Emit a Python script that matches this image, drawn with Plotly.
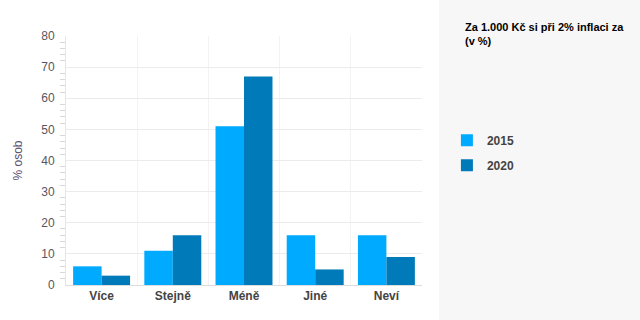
import plotly.graph_objects as go

categories = ["Více", "Stejně", "Méně", "Jiné", "Neví"]
values_2015 = [6, 11, 51, 16, 16]
values_2020 = [3, 16, 67, 5, 9]
series_names = ["2015", "2020"]
colors = ["#00aaff", "#007ab8"]

fig = go.Figure()
for name, vals, col in zip(series_names, [values_2015, values_2020], colors):
    fig.add_trace(go.Bar(x=categories, y=vals, name="<b>" + name + "</b>",
                         marker=dict(color=col, line=dict(width=0)), legendgroup=name))

fig.update_layout(
    width=640, height=320,
    margin=dict(l=66, r=218, t=36, b=35),
    paper_bgcolor="white", plot_bgcolor="white",
    barmode="group", bargap=0.2, bargroupgap=0,
    font=dict(family="Liberation Sans, Arial", size=12, color="#555"),
    showlegend=True,
    legend=dict(x=1.07, y=0.64, xanchor="left", yanchor="top",
                bgcolor="rgba(0,0,0,0)", traceorder="grouped", tracegroupgap=6,
                font=dict(size=12, color="#444", family="Liberation Sans, Arial"),
                itemwidth=30),
    shapes=[dict(type="rect", xref="paper", yref="paper", x0=1.0478, x1=1.62, y0=-0.2, y1=1.2,
                 fillcolor="#f7f7f7", line=dict(width=0), layer="below")],
    annotations=[dict(text="<b>Za 1.000 Kč si při 2% inflaci za<br>(v %)</b>", xref="paper", yref="paper",
                      x=1.115, y=1.068, xanchor="left", yanchor="top", align="left", showarrow=False,
                      font=dict(size=11, color="#000", family="Liberation Sans, Arial"))],
)

fig.update_xaxes(showline=True, linecolor="#ddd", linewidth=1, tickson="boundaries",
                 showgrid=True, gridcolor="#f3f3f3", ticks="",
                 tickfont=dict(size=12, color="#444", family="Liberation Sans, Arial", weight="bold"))
fig.update_yaxes(range=[0, 80], dtick=10, showline=True, linecolor="#e6e6e6", linewidth=1,
                 showgrid=True, gridcolor="#ececec", zeroline=False,
                 ticks="outside", ticklen=8, tickcolor="rgba(0,0,0,0)",
                 minor=dict(dtick=2, ticks="outside", ticklen=5, tickcolor="#d8d8d8", showgrid=False),
                 title=dict(text="% osob", font=dict(size=12, color="#5a5070"), standoff=16),
                 tickfont=dict(size=12, color="#5a5560"))

fig.write_html("out.html")
